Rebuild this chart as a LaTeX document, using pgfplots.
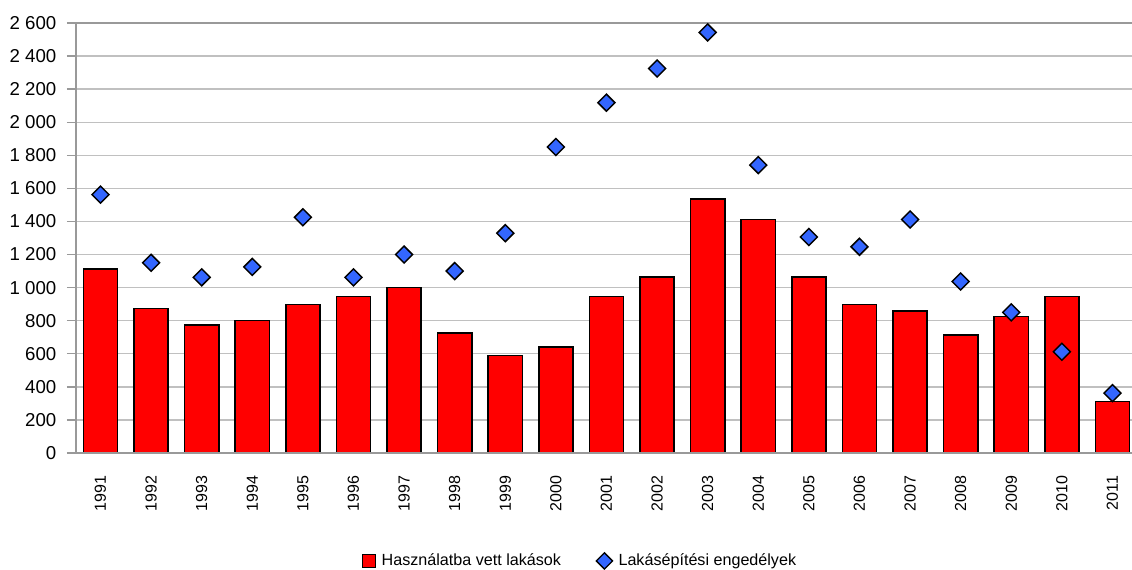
\documentclass[border=0pt]{standalone}
\usepackage{fontspec}
\setmainfont{Liberation Sans}
\usepackage{pgfplots}
\pgfplotsset{compat=1.18}
\definecolor{barred}{RGB}{255,0,0}
\definecolor{diablue}{RGB}{51,102,255}
\definecolor{gridgray}{RGB}{192,192,192}
\definecolor{framegray}{RGB}{153,153,153}
\begin{document}
\begin{tikzpicture}
\path[use as bounding box] (-57pt,-87.75pt) rectangle (792pt,339.75pt);
\begin{axis}[
  scale only axis, width=792pt, height=322.5pt,
  xmin=-0.484, xmax=20.386, ymin=0, ymax=2600,
  xtick={0,1,...,20},
  xticklabels={1991,1992,1993,1994,1995,1996,1997,1998,1999,2000,2001,2002,2003,2004,2005,2006,2007,2008,2009,2010,2011},
  ytick={0,200,...,2600},
  yticklabels={0,200,400,600,800,1 000,1 200,1 400,1 600,1 800,2 000,2 200,2 400,2 600},
  axis line style={draw=none},
  ymajorgrids, grid style={gridgray, line width=1pt},
  tick align=outside, major tick length=6.75pt,
  ytick style={framegray, line width=1pt},
  xtick style={draw=none},
  yticklabel style={font=\fontsize{14}{16}\selectfont, xshift=-4.5pt},
  xticklabel style={font=\fontsize{12}{14}\selectfont, rotate=90, anchor=east, xshift=-7pt},
  legend style={at={(0.4775,-0.251)}, anchor=center, draw=none, fill=none,
    legend columns=2, font=\fontsize{12.1}{14}\selectfont,
    /tikz/every odd column/.append style={column sep=2pt},
    /tikz/every even column/.append style={column sep=24pt}},
  clip=false,
]
\addplot[ybar, bar width=0.678, fill=barred, draw=black, line width=1.2pt,
  legend image code/.code={\draw[fill=barred, draw=black, line width=1pt] (0pt,-5pt) rectangle (10pt,5pt);}]
  coordinates {(0,1112) (1,873) (2,775) (3,800) (4,897) (5,947) (6,1000) (7,727) (8,590) (9,640)
  (10,947) (11,1064) (12,1537) (13,1412) (14,1064) (15,899) (16,860) (17,715) (18,825) (19,947) (20,312)};
\addlegendentry{Használatba vett lakások}
\addplot[only marks, mark=square*, mark size=4.5pt,
  mark options={rotate=45, fill=diablue, draw=black, line width=1.1pt},
  legend image code/.code={\draw[fill=diablue, draw=black, line width=1pt, rotate=45] (-4.3pt,-4.3pt) rectangle (4.3pt,4.3pt);}]
  coordinates {(0,1562) (1,1150) (2,1062) (3,1125) (4,1425) (5,1062) (6,1200) (7,1100) (8,1329) (9,1850)
  (10,2118) (11,2325) (12,2543) (13,1741) (14,1306) (15,1247) (16,1412) (17,1037) (18,850) (19,612) (20,362)};
\addlegendentry{Lakásépítési engedélyek}
\draw[framegray, line width=1.5pt] (rel axis cs:1,1) -- (rel axis cs:0,1) -- (rel axis cs:0,0) -- (rel axis cs:1,0);
\end{axis}
\end{tikzpicture}
\end{document}
